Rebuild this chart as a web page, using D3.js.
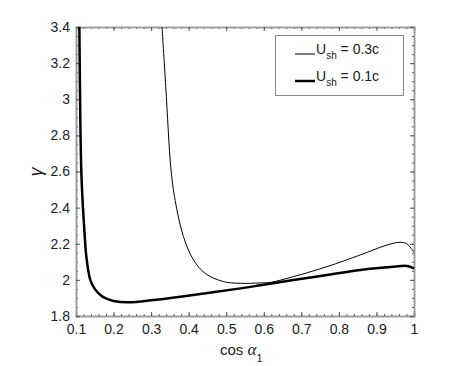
<!DOCTYPE html>
<html>
<head>
<meta charset="utf-8">
<script src="https://cdn.jsdelivr.net/npm/d3@7"></script>
<style>
  body { margin: 0; background: #fff; }
  text { font-family: "Liberation Sans", Arial, sans-serif; fill: #222; }
</style>
</head>
<body>
<div id="chart"></div>
<script>
// gamma vs cos(alpha_1)
var cos03 = [0.329, 0.339, 0.353, 0.364, 0.386, 0.413, 0.444, 0.493, 0.537, 0.59, 0.617, 0.679, 0.768, 0.857, 0.928, 0.963, 0.981, 0.999];
var gam03 = [3.40, 3.07, 2.61, 2.44, 2.24, 2.11, 2.036, 1.99, 1.981, 1.983, 1.986, 2.018, 2.073, 2.138, 2.193, 2.208, 2.199, 2.156];

var cos01 = [0.109, 0.1115, 0.114, 0.118, 0.123, 0.128, 0.138, 0.15, 0.165, 0.18, 0.2, 0.24, 0.307, 0.378, 0.538, 0.591, 0.679, 0.768, 0.857, 0.946, 0.981, 1.0];
var gam01 = [3.40, 2.885, 2.61, 2.42, 2.25, 2.12, 2.00, 1.95, 1.916, 1.897, 1.883, 1.876, 1.889, 1.907, 1.953, 1.97, 1.999, 2.027, 2.055, 2.073, 2.077, 2.064];

var xTicks = [0.1, 0.2, 0.3, 0.4, 0.5, 0.6, 0.7, 0.8, 0.9, 1];
var yTicks = [1.8, 2, 2.2, 2.4, 2.6, 2.8, 3, 3.2, 3.4];

var width = 474, height = 366;
var margin = { top: 27, right: 60, bottom: 50, left: 76 };
var w = width - margin.left - margin.right,
    h = height - margin.top - margin.bottom;

var svg = d3.select("#chart").append("svg")
    .attr("width", width)
    .attr("height", height);

var g = svg.append("g")
    .attr("transform", "translate(" + margin.left + "," + margin.top + ")");

var x = d3.scaleLinear().domain([0.1, 1]).range([0, w]);
var y = d3.scaleLinear().domain([1.8, 3.4]).range([h, 0]);

var xMinor = d3.range(0.1, 1.0001, 0.02);
var yMinor = d3.range(1.8, 3.4001, 0.05);

function fmt(d) { return d3.format("")(+d.toFixed(1)); }

// minor ticks on all four sides
g.append("g").attr("class", "minor").attr("transform", "translate(0," + h + ")")
    .call(d3.axisBottom(x).tickValues(xMinor).tickSize(-2).tickFormat(""));
g.append("g").attr("class", "minor")
    .call(d3.axisTop(x).tickValues(xMinor).tickSize(-2).tickFormat(""));
g.append("g").attr("class", "minor")
    .call(d3.axisLeft(y).tickValues(yMinor).tickSize(-2).tickFormat(""));
g.append("g").attr("class", "minor").attr("transform", "translate(" + w + ",0)")
    .call(d3.axisRight(y).tickValues(yMinor).tickSize(-2).tickFormat(""));

// major ticks + labels
g.append("g").attr("class", "major").attr("transform", "translate(0," + h + ")")
    .call(d3.axisBottom(x).tickValues(xTicks).tickSize(-4).tickPadding(8).tickFormat(fmt));
g.append("g").attr("class", "major")
    .call(d3.axisTop(x).tickValues(xTicks).tickSize(-4).tickFormat(""));
g.append("g").attr("class", "major")
    .call(d3.axisLeft(y).tickValues(yTicks).tickSize(-4).tickPadding(6).tickFormat(fmt));
g.append("g").attr("class", "major").attr("transform", "translate(" + w + ",0)")
    .call(d3.axisRight(y).tickValues(yTicks).tickSize(-4).tickFormat(""));

g.selectAll(".domain").attr("stroke", "#999").attr("stroke-width", 1.5);
g.selectAll(".tick line").attr("stroke", "#555");
g.selectAll(".major text").attr("font-size", 14).attr("font-family", "Liberation Sans, Arial, sans-serif").attr("fill", "#222");

// curves
var line = d3.line()
    .x(function(d) { return x(d[0]); })
    .y(function(d) { return y(d[1]); })
    .curve(d3.curveCatmullRom.alpha(0.5));

var plot = g.append("g");
plot.append("path")
    .datum(d3.zip(cos03, gam03))
    .attr("fill", "none")
    .attr("stroke", "#000")
    .attr("stroke-width", 1)
    .attr("d", line);
plot.append("path")
    .datum(d3.zip(cos01, gam01))
    .attr("fill", "none")
    .attr("stroke", "#000")
    .attr("stroke-width", 2.5)
    .attr("d", line);

// axis labels
var xl = svg.append("text")
    .attr("x", 220).attr("y", 355)
    .attr("font-size", 15);
xl.append("tspan").text("cos ");
xl.append("tspan").attr("font-family", "Liberation Serif, serif").attr("font-style", "italic").attr("font-size", 17).text("α");
xl.append("tspan").attr("font-size", 11).attr("dy", 7).text("1");

svg.append("text")
    .attr("transform", "translate(42,172) rotate(-90)")
    .attr("text-anchor", "middle")
    .attr("font-family", "Liberation Serif, serif")
    .attr("font-style", "italic")
    .attr("font-size", 18)
    .text("γ");

// legend
var legend = svg.append("g");
legend.append("rect")
    .attr("x", 275.5).attr("y", 35.5)
    .attr("width", 128).attr("height", 60)
    .attr("fill", "#fff")
    .attr("stroke", "#888")
    .attr("stroke-width", 1);

var entries = [
  { label: "0.3c", sw: 1, yy: 54 },
  { label: "0.1c", sw: 2.5, yy: 81 }
];
entries.forEach(function(e) {
  legend.append("line")
      .attr("x1", 295).attr("x2", 315)
      .attr("y1", e.yy).attr("y2", e.yy)
      .attr("stroke", "#000").attr("stroke-width", e.sw);
  var t = legend.append("text").attr("x", 316).attr("y", e.yy).attr("font-size", 14);
  t.append("tspan").text("U");
  t.append("tspan").attr("font-size", 10).attr("dy", 5).text("sh");
  t.append("tspan").attr("dy", -5).text(" = " + e.label);
});
</script>
</body>
</html>
